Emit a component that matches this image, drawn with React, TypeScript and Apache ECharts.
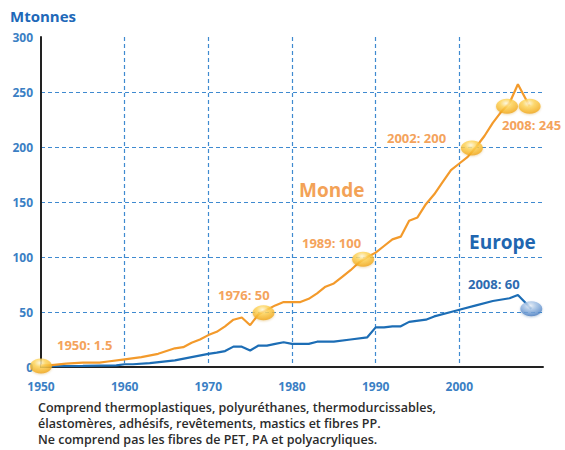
import React, { useEffect, useRef } from "react";
import * as echarts from "echarts";

const worldYears = [1950, 1951, 1953, 1955, 1957, 1958, 1960, 1962, 1964, 1966, 1967, 1968, 1969, 1970, 1971, 1972, 1973, 1974, 1975, 1976, 1977, 1978, 1979, 1980, 1981, 1982, 1983, 1984, 1985, 1986, 1987, 1988, 1989, 1990, 1991, 1992, 1993, 1994, 1995, 1996, 1997, 1998, 1999, 2000, 2001, 2002, 2003, 2004, 2005, 2006, 2007, 2008.4];
const worldValues = [1.5, 1.5, 3, 4, 4, 5, 7, 9, 12, 17, 18, 22, 25, 29, 32, 37, 43, 45, 38, 48, 52, 56, 59, 59, 59, 62, 67, 73, 76, 82, 88, 95, 100, 104, 110, 116, 118.5, 133, 136, 148, 157, 168, 179, 185, 191, 200, 210, 222, 232, 240, 257, 237];

const europeYears = [1950, 1951, 1955, 1959, 1960, 1961, 1963, 1966, 1968, 1970, 1971, 1972, 1973, 1974, 1975, 1976, 1977, 1978, 1979, 1980, 1982, 1983, 1985, 1987, 1989, 1990, 1991, 1992, 1993, 1994, 1996, 1997, 1999, 2000, 2002, 2004, 2006, 2007, 2008.6];
const europeValues = [0.5, 0.7, 1, 1.5, 2.5, 2.5, 3.5, 6, 9, 12, 13, 14.5, 18.5, 18.5, 15, 19.5, 19.5, 21, 22.5, 21, 21, 23, 23, 25, 27, 36, 36, 37, 37, 41, 43, 46, 50, 52, 56, 60, 62.5, 65.5, 53];

const worldBubbleYears = [1950, 1976.6, 1988.5, 2001.5, 2005.7, 2008.4];
const worldBubbleValues = [1, 49.4, 98, 199, 237, 237];
const europeBubbleYears = [2008.6];
const europeBubbleValues = [53];

const yTicks = { min: 0, max: 300, interval: 50 };
const xTicks = { min: 1950, max: 2010, interval: 10 };

const annotations = [
  { text: "1950: 1.5", x: 57, y: 347, color: "#f4a35c" },
  { text: "1976: 50", x: 218, y: 297, color: "#f4a35c" },
  { text: "1989: 100", x: 302, y: 245, color: "#f4a35c" },
  { text: "2002: 200", x: 387, y: 140, color: "#f4a35c" },
  { text: "2008: 245", x: 502, y: 127, color: "#f4a35c" },
  { text: "2008: 60", x: 468, y: 286, color: "#2d6bb0" },
];

const noteLines = [
  "Comprend thermoplastiques, polyuréthanes, thermodurcissables,",
  "élastomères, adhésifs, revêtements, mastics et fibres PP.",
  "Ne comprend pas les fibres de PET, PA et polyacryliques.",
];

const pair = (xs: number[], ys: number[]) => xs.map((x, i) => [x, ys[i]]);

const FONT = "'Open Sans', 'Noto Sans', sans-serif";

export default function App() {
  const ref = useRef<HTMLDivElement>(null);
  useEffect(() => {
    if (!ref.current) return;
    const chart = echarts.init(ref.current, null, { renderer: "svg" });
    const gold = {
      type: "radial",
      x: 0.45,
      y: 0.3,
      r: 0.75,
      colorStops: [
        { offset: 0, color: "#fffbe0" },
        { offset: 0.35, color: "#ffd65a" },
        { offset: 0.8, color: "#f5b125" },
        { offset: 1, color: "#eb9d14" },
      ],
    };
    const blue = {
      type: "radial",
      x: 0.45,
      y: 0.3,
      r: 0.75,
      colorStops: [
        { offset: 0, color: "#eef4fb" },
        { offset: 0.35, color: "#a9c6e8" },
        { offset: 0.8, color: "#5d8fcd" },
        { offset: 1, color: "#3e70b4" },
      ],
    };
    const gridLine = { type: [4, 3], color: "#3f8ad0", width: 1.2 };
    const graphics: any[] = [
      {
        type: "text",
        left: 10,
        top: 8,
        style: { text: "Mtonnes", fill: "#2068b8", font: `bold 15px ${FONT}` },
      },
      {
        type: "text",
        left: 299,
        top: 180,
        style: { text: "Monde", fill: "#f3a257", font: `bold 19px ${FONT}` },
      },
      {
        type: "text",
        left: 469,
        top: 232,
        style: { text: "Europe", fill: "#2166b0", font: `bold 19px ${FONT}` },
      },
      ...annotations.map((a) => ({
        type: "text",
        left: a.x,
        top: a.y - 9,
        style: { text: a.text, fill: a.color, font: `bold 13px ${FONT}` },
      })),
      ...noteLines.map((t, i) => ({
        type: "text",
        left: 38,
        top: 401 + i * 16,
        style: { text: t, fill: "#2b2b2b", font: `600 12.5px ${FONT}` },
      })),
    ];
    chart.setOption({
      animation: false,
      grid: { left: 41, right: 22, top: 37, bottom: 83, containLabel: false },
      xAxis: {
        type: "value",
        min: xTicks.min,
        max: xTicks.max,
        interval: xTicks.interval,
        axisLine: { show: true, lineStyle: { color: "#222", width: 2 } },
        axisTick: { show: false },
        axisLabel: {
          margin: 13,
          color: "#3b7fc4",
          fontFamily: FONT,
          fontWeight: "bold",
          fontSize: 12,
          formatter: (v: number) => (v === 2010 ? "" : String(v)),
        },
        splitLine: { show: true, showMinLine: false, showMaxLine: false, lineStyle: gridLine },
      },
      yAxis: {
        type: "value",
        min: yTicks.min,
        max: yTicks.max,
        interval: yTicks.interval,
        axisLine: { show: true, lineStyle: { color: "#222", width: 2 } },
        axisTick: { show: false },
        axisLabel: {
          margin: 8,
          color: "#3b7fc4",
          fontFamily: FONT,
          fontWeight: "bold",
          fontSize: 12,
        },
        splitLine: { show: true, showMinLine: false, showMaxLine: false, lineStyle: gridLine },
      },
      series: [
        {
          type: "line",
          data: pair(europeYears, europeValues),
          showSymbol: false,
          lineStyle: { color: "#1c6db5", width: 2.2 },
          z: 3,
        },
        {
          type: "line",
          data: pair(worldYears, worldValues),
          showSymbol: false,
          lineStyle: { color: "#f39a2b", width: 2.2 },
          z: 3,
        },
        {
          type: "scatter",
          data: pair(worldBubbleYears, worldBubbleValues),
          symbol: "circle",
          symbolSize: [22, 15],
          itemStyle: { color: gold, shadowColor: "rgba(200,130,0,0.35)", shadowBlur: 2, shadowOffsetY: 1 },
          z: 5,
        },
        {
          type: "scatter",
          data: pair(europeBubbleYears, europeBubbleValues),
          symbol: "circle",
          symbolSize: [22, 15],
          itemStyle: { color: blue, shadowColor: "rgba(30,80,150,0.35)", shadowBlur: 2, shadowOffsetY: 1 },
          z: 5,
        },
      ],
      graphic: graphics,
    });
    return () => chart.dispose();
  }, []);
  return <div ref={ref} style={{ width: 565, height: 450, position: "absolute", left: 0, top: 0 }} />;
}
